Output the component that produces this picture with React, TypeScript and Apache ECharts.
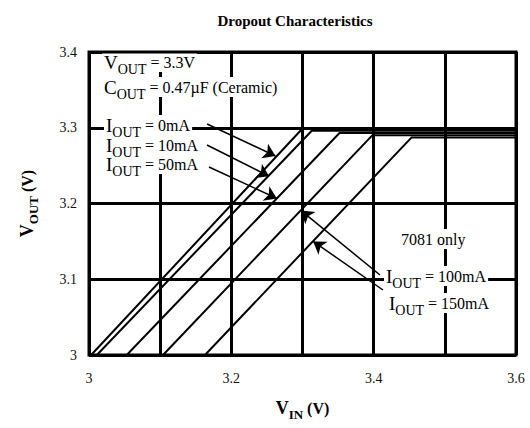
import React, { useEffect, useRef } from "react";
import * as echarts from "echarts";

// ---- data ----
const loadLabels = ["0mA", "10mA", "50mA", "100mA", "150mA"];
// V_IN where V_OUT = 3.0 V (bottom of chart)
const vinAtBottom = [3.003, 3.011, 3.053, 3.104, 3.163];
// V_IN where the output reaches regulation (knee)
const vinAtKnee = [3.3, 3.313, 3.352, 3.398, 3.453];
// regulated output level per load
const voutRegulated = [3.299, 3.296, 3.293, 3.29, 3.287];
const voutBottom = 3.0;
const vinMax = 3.6;

const xTickLabels = ["3", "3.2", "3.4", "3.6"];
const yTickLabels = ["3", "3.1", "3.2", "3.3", "3.4"];

// annotation arrows in data units
const arrowTails = [
  [3.166, 3.305],
  [3.1658, 3.2772],
  [3.1686, 3.2482],
  [3.4089, 3.1056],
  [3.4131, 3.0858],
];
const arrowTips = [
  [3.262, 3.2627],
  [3.253, 3.236],
  [3.264, 3.2067],
  [3.298, 3.1907],
  [3.315, 3.15],
];

const FONT = "Liberation Serif";

const rich = {
  b: { fontFamily: FONT, fontSize: 19, lineHeight: 20, color: "#000", verticalAlign: "middle" },
  s: { fontFamily: FONT, fontSize: 14, lineHeight: 6, height: 6, color: "#000", verticalAlign: "bottom" },
  t: { fontFamily: FONT, fontSize: 16, lineHeight: 20, color: "#000", verticalAlign: "middle" },
};

const nameRich = {
  b: { fontFamily: FONT, fontSize: 18, fontWeight: "bold", lineHeight: 18, color: "#000", verticalAlign: "middle" },
  s: { fontFamily: FONT, fontSize: 13, fontWeight: "bold", lineHeight: 5, height: 5, color: "#000", verticalAlign: "bottom" },
  t: { fontFamily: FONT, fontSize: 16, fontWeight: "bold", lineHeight: 18, color: "#000", verticalAlign: "middle" },
};

function label(text: string, x: number, y: number) {
  return {
    type: "text",
    x,
    y,
    z: 1,
    style: {
      text,
      rich,
      fontFamily: FONT,
      align: "left",
      verticalAlign: "top",
      textAlign: "left",
      textVerticalAlign: "top",
      backgroundColor: "#fff",
      padding: [0, 2],
    },
  };
}

export default function App() {
  const ref = useRef<HTMLDivElement>(null);
  useEffect(() => {
    if (!ref.current) return;
    const chart = echarts.init(ref.current, null, { renderer: "svg" });

    const series: any[] = loadLabels.map((name, i) => ({
      name: "IOUT = " + name,
      type: "line",
      z: 3,
      showSymbol: false,
      silent: true,
      lineStyle: { color: "#000", width: 2 },
      data: [
        [vinAtBottom[i], voutBottom],
        [vinAtKnee[i], voutRegulated[i]],
        [vinMax, voutRegulated[i]],
      ],
    }));
    series[0].markLine = {
      silent: true,
      symbol: ["none", "arrow"],
      symbolSize: 12,
      label: { show: false },
      lineStyle: { color: "#000", width: 1.5, type: "solid" },
      itemStyle: { color: "#000" },
      emphasis: { disabled: true },
      data: arrowTails.map((t, i) => [{ coord: t }, { coord: arrowTips[i] }]),
    };

    chart.setOption({
      animation: false,
      backgroundColor: "#fff",
      textStyle: { fontFamily: FONT },
      title: {
        text: "Dropout Characteristics",
        left: 290,
        top: 8,
        textAlign: "center",
        textStyle: { fontFamily: FONT, fontSize: 15, fontWeight: "bold", color: "#000" },
      },
      grid: {
        left: 89,
        right: 14,
        top: 52,
        bottom: 73,
        show: true,
        borderColor: "#000",
        borderWidth: 3,
        z: 2,
      },
      xAxis: {
        type: "value",
        min: 3,
        max: 3.6,
        interval: 0.1,
        name: "{b|V}{s|IN}{t| (V)}",
        nameLocation: "middle",
        nameGap: 44,
        nameTextStyle: { fontFamily: FONT, rich: nameRich },
        axisLine: { show: false },
        axisTick: { show: false },
        axisLabel: {
          margin: 16,
          fontFamily: FONT,
          fontSize: 14,
          color: "#111",
          formatter: (v: number) => {
            const k = Math.round(v * 10) - 30;
            return k % 2 === 0 ? xTickLabels[k / 2] : "";
          },
        },
        splitLine: { show: true, lineStyle: { color: "#000", width: 3 } },
      },
      yAxis: {
        type: "value",
        min: 3,
        max: 3.4,
        interval: 0.1,
        name: "{b|V}{s|OUT}{t| (V)}",
        nameLocation: "middle",
        nameRotate: 90,
        nameGap: 53,
        nameTextStyle: { fontFamily: FONT, rich: nameRich },
        axisLine: { show: false },
        axisTick: { show: false },
        axisLabel: {
          margin: 12,
          fontFamily: FONT,
          fontSize: 14,
          color: "#111",
          formatter: (v: number) => yTickLabels[Math.round(v * 10) - 30],
        },
        splitLine: { show: true, lineStyle: { color: "#000", width: 3 } },
      },
      graphic: [
        label("{b|V}{s|OUT}{t| = 3.3V}", 102, 52),
        label("{b|C}{s|OUT}{t| = 0.47µF (Ceramic)}", 102, 77),
        label("{b|I}{s|OUT}{t| = 50mA}", 104, 154),
        label("{b|I}{s|OUT}{t| = 10mA}", 104, 135),
        label("{b|I}{s|OUT}{t| = 0mA}", 104, 115),
        label("{t|7081 only}", 399, 229),
        label("{b|I}{s|OUT}{t| = 150mA}", 387, 293),
        label("{b|I}{s|OUT}{t| = 100mA}", 384, 266),
      ],
      series,
    });
    return () => chart.dispose();
  }, []);
  return (
    <div
      ref={ref}
      style={{ position: "fixed", left: 0, top: 0, width: 530, height: 428 }}
    />
  );
}
